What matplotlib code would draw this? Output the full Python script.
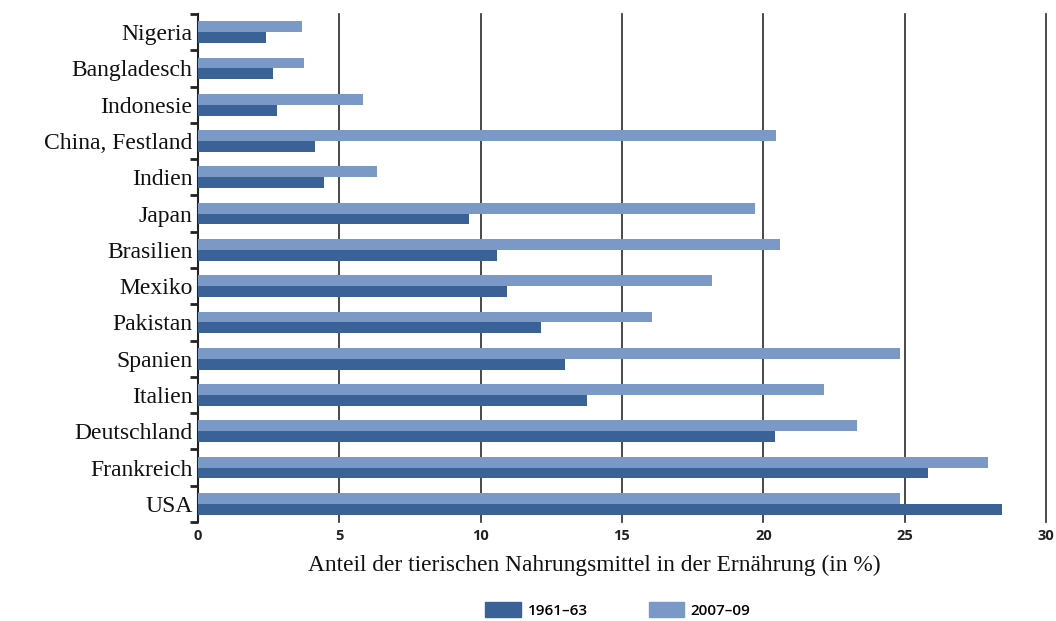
import matplotlib.pyplot as plt
import matplotlib.patches as mpatches
import numpy as np

# Anteil tierischer Nahrungsmittel (in %), von oben nach unten
countries = ['Nigeria', 'Bangladesch', 'Indonesie', 'China, Festland', 'Indien',
             'Japan', 'Brasilien', 'Mexiko', 'Pakistan', 'Spanien', 'Italien',
             'Deutschland', 'Frankreich', 'USA']
values_1961 = [2.42, 2.65, 2.81, 4.14, 4.46, 9.6, 10.57, 10.93, 12.13, 13.0,
               13.76, 20.41, 25.83, 28.46]
values_2007 = [3.68, 3.75, 5.84, 20.46, 6.35, 19.7, 20.6, 18.2, 16.05, 24.85,
               22.15, 23.3, 27.96, 24.85]
x_ticks = [0, 5, 10, 15, 20, 25, 30]
legend_labels = ['1961\u201363', '2007\u201309']

dark = '#3b6296'
light = '#7b99c7'

fig = plt.figure(figsize=(10.56, 6.21), dpi=100)
ax = fig.add_axes([198 / 1056, 1 - 522 / 621, 848 / 1056, 508 / 621])

y = np.arange(len(countries))
h = 0.3
ax.barh(y - h / 2, values_2007, height=h, color=light, zorder=3)
ax.barh(y + h / 2, values_1961, height=h, color=dark, zorder=3)

ax.set_xlim(0, 30)
ax.set_ylim(len(countries) - 0.5, -0.5)

# vertical grid lines
for t in x_ticks[1:]:
    ax.axvline(t, color='#2a2a2a', linewidth=1.2, zorder=1, clip_on=False)

for side in ['top', 'right', 'bottom']:
    ax.spines[side].set_visible(False)
ax.spines['left'].set_color('#222222')
ax.spines['left'].set_linewidth(1.5)

# y ticks: marks at group boundaries, labels at centers
ax.set_yticks(np.arange(len(countries) + 1) - 0.5)
ax.set_yticklabels([])
ax.tick_params(axis='y', which='major', length=6, width=2, color='#222222')
ax.set_yticks(y, minor=True)
ax.set_yticklabels(countries, minor=True, fontsize=17, family='Liberation Serif',
                   color='#111111')
ax.tick_params(axis='y', which='minor', length=0, pad=4)

ax.set_xticks(x_ticks)
ax.set_xticklabels([str(t) for t in x_ticks], fontsize=10.5, fontweight='bold',
                   family='Open Sans', color='#222222')
ax.tick_params(axis='x', length=0, pad=5)

fig.text(594 / 1056, 1 - 565 / 621,
         'Anteil der tierischen Nahrungsmittel in der Ern\u00e4hrung (in %)',
         ha='center', va='center', fontsize=16.8, family='Liberation Serif',
         color='#111111')

handles = [mpatches.Patch(color=dark, label=legend_labels[0]),
           mpatches.Patch(color=light, label=legend_labels[1])]
fig.legend(handles=handles, loc='center', bbox_to_anchor=(618 / 1056, 1 - 610 / 621),
           ncol=2, frameon=False, handlelength=2.3, handleheight=1.1,
           handletextpad=0.45, columnspacing=4.0, borderpad=0,
           prop={'family': 'Open Sans', 'size': 11, 'weight': 'semibold'})

fig.savefig('out.png', dpi=100)
